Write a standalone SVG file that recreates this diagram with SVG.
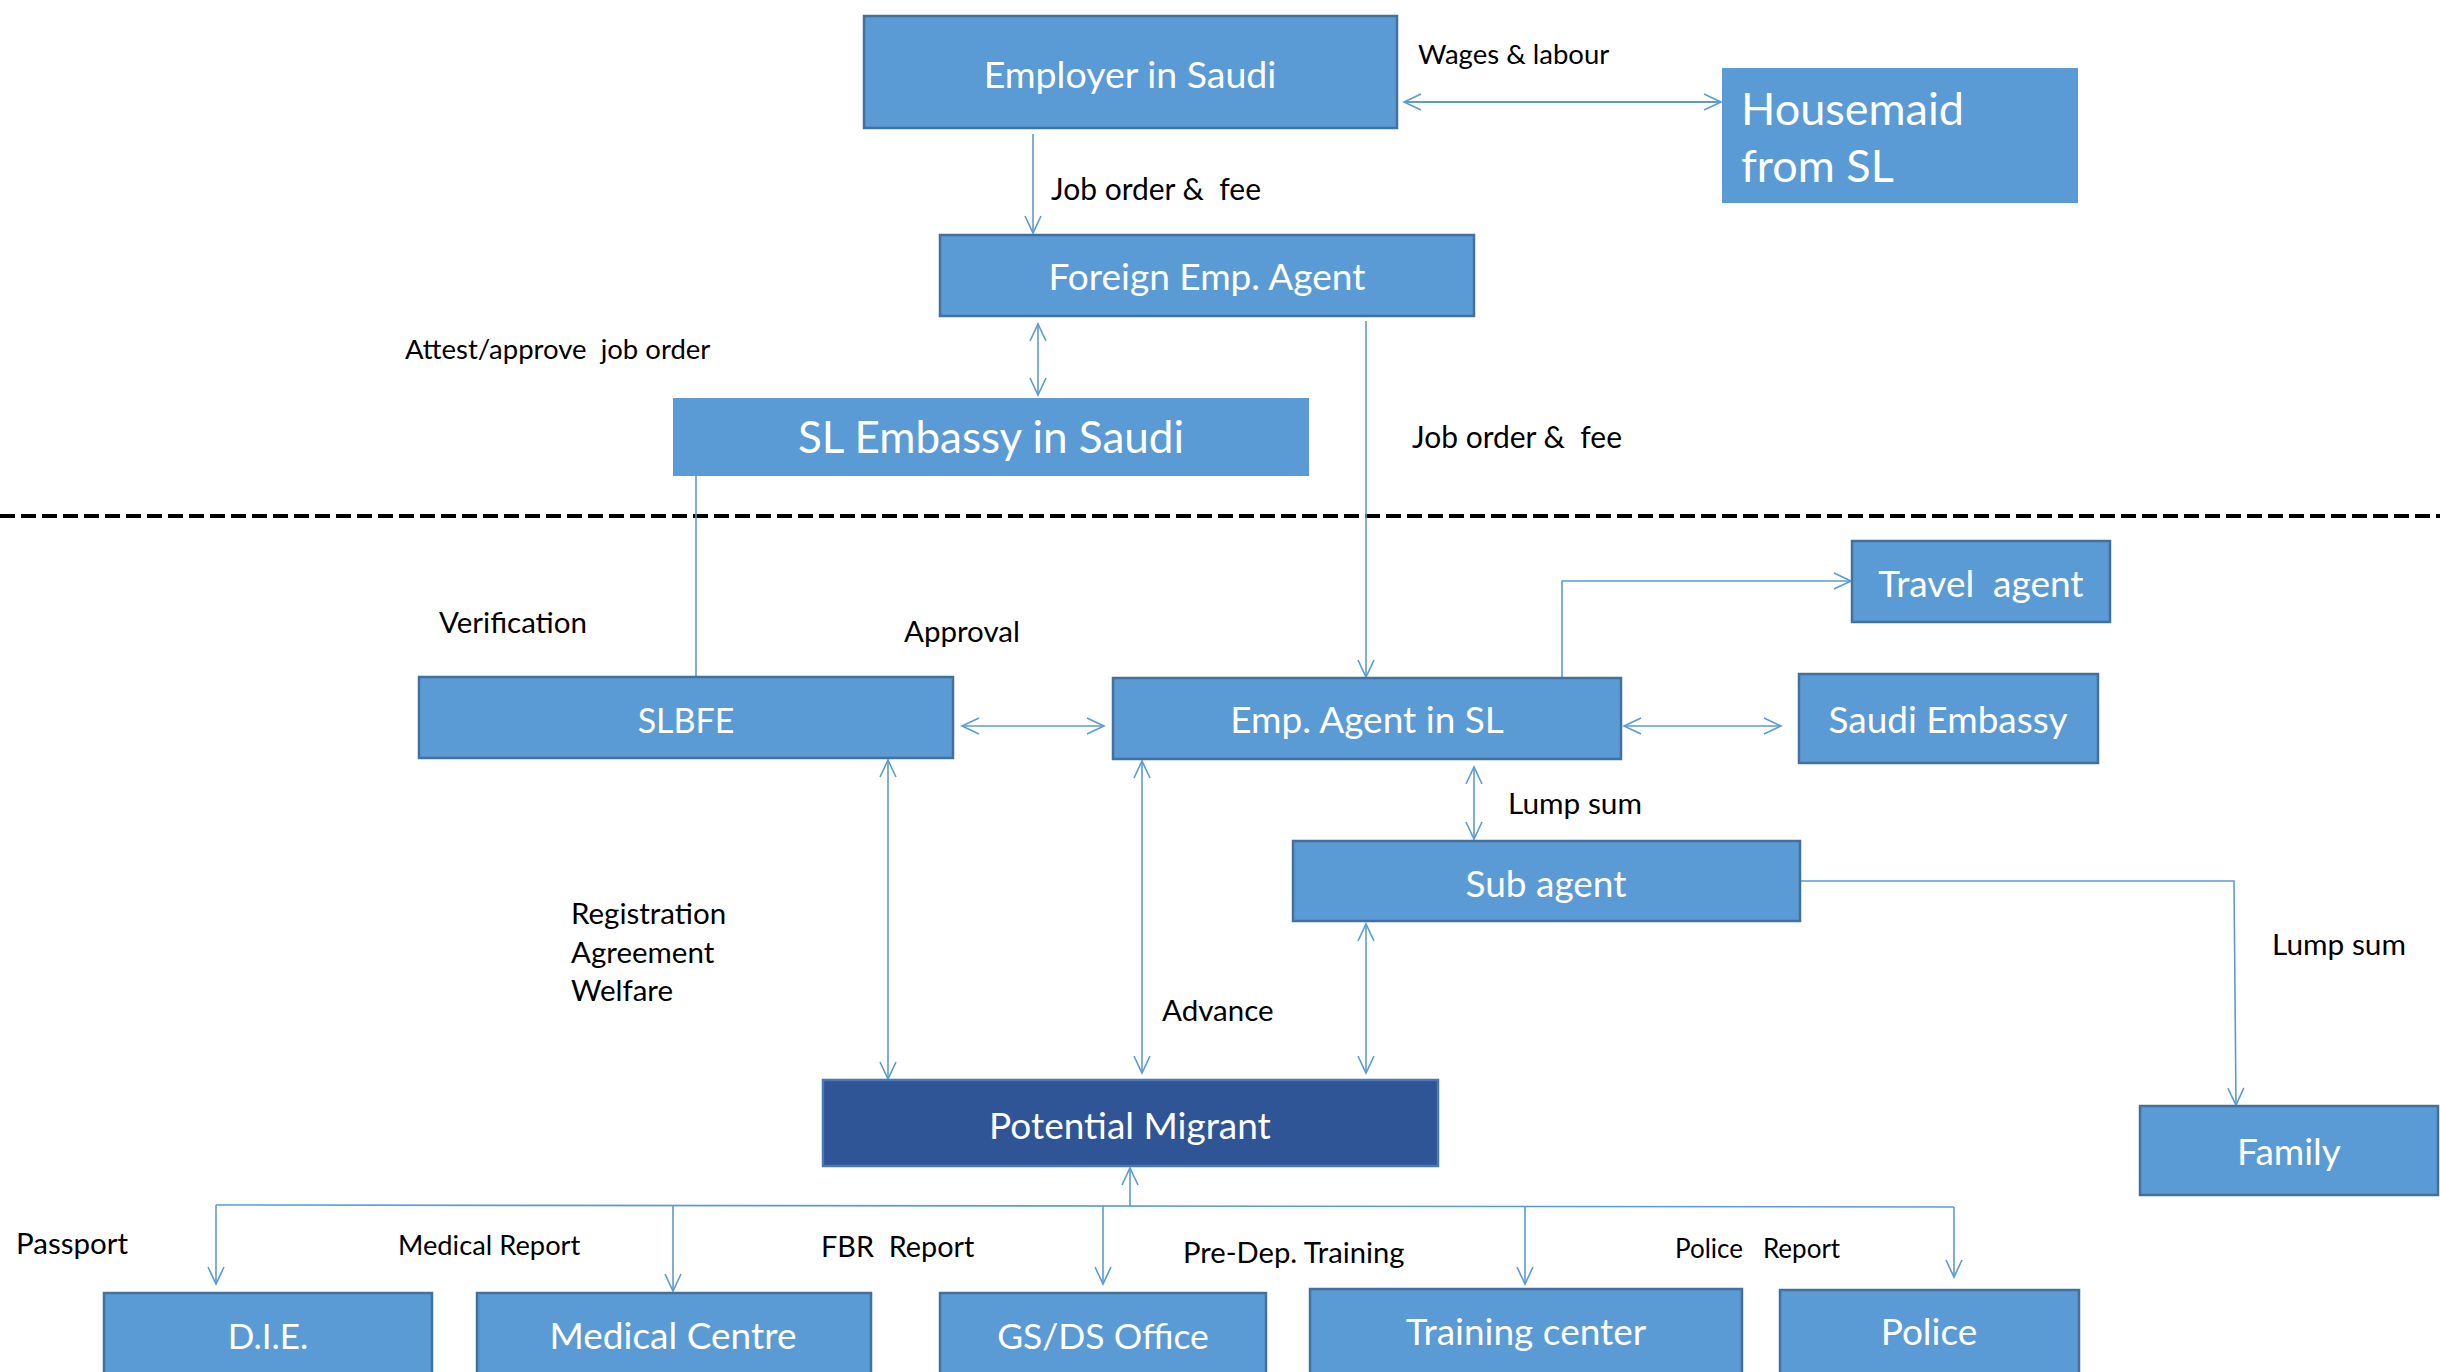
<svg xmlns="http://www.w3.org/2000/svg" width="2440" height="1372" viewBox="0 0 2440 1372">
  <style>
    .box { fill: #5B9BD5; stroke: #41719C; stroke-width: 2.5; }
    .flat { fill: #5B9BD5; stroke: none; }
    .dark { fill: #2F5597; stroke: #4A78B5; stroke-width: 2.5; }
    .nt { font-family: Lato, "Open Sans", "Liberation Sans", sans-serif; fill: #FFFFFF; font-size: 37px; text-anchor: middle; }
    .lbl { font-family: Lato, "Open Sans", "Liberation Sans", sans-serif; fill: #000000; font-size: 29.5px; white-space: pre; }
    .pre { white-space: pre; }
    .con { fill: none; stroke: #5B9BD5; stroke-width: 1.6; }
    .two { marker-start: url(#head); marker-end: url(#head); }
    .one { marker-end: url(#head); }
  </style>
  <defs>
    <marker id="head" markerUnits="userSpaceOnUse" markerWidth="40" markerHeight="40" refX="0" refY="0" orient="auto-start-reverse" overflow="visible">
      <path d="M-17,-8 L0,0 L-17,8" fill="none" stroke="#5B9BD5" stroke-width="1.6"/>
    </marker>
  </defs>
  <rect width="2440" height="1372" fill="#FFFFFF"/>

  <!-- border between the Saudi side and the Sri Lanka side -->
  <line x1="0" y1="516" x2="2440" y2="516" stroke="#000000" stroke-width="4" stroke-dasharray="15 6"/>

  <!-- connectors -->
  <g id="connectors">
    <line class="con one" x1="1033" y1="134" x2="1033" y2="233"/>
    <line class="con two" x1="1404" y1="102" x2="1721" y2="102" style="stroke-width:2"/>
    <line class="con two" x1="1038" y1="324" x2="1038" y2="395"/>
    <line class="con" x1="696" y1="476" x2="696" y2="677"/>
    <line class="con one" x1="1366" y1="321" x2="1366" y2="677"/>
    <polyline class="con one" points="1562,678 1562,581 1851,581"/>
    <line class="con two" x1="962" y1="726" x2="1104" y2="726"/>
    <line class="con two" x1="1624" y1="726" x2="1781" y2="726"/>
    <line class="con two" x1="1474" y1="767" x2="1474" y2="839"/>
    <polyline class="con one" points="1800,881 2234,881 2236,1105"/>
    <line class="con two" x1="888" y1="760" x2="888" y2="1079"/>
    <line class="con two" x1="1142" y1="761" x2="1142" y2="1073"/>
    <line class="con two" x1="1366" y1="924" x2="1366" y2="1073"/>
    <line class="con one" x1="1130" y1="1206" x2="1130" y2="1168"/>
    <line class="con" x1="216" y1="1205" x2="1954" y2="1207"/>
    <line class="con one" x1="216" y1="1205" x2="216" y2="1284"/>
    <line class="con one" x1="673" y1="1205" x2="673" y2="1291"/>
    <line class="con one" x1="1103" y1="1206" x2="1103" y2="1284"/>
    <line class="con one" x1="1525" y1="1206" x2="1525" y2="1284"/>
    <line class="con one" x1="1954" y1="1207" x2="1954" y2="1277"/>
  </g>

  <!-- Saudi side -->
  <g id="employer">
    <rect class="box" x="864" y="16" width="533" height="112"/>
    <text class="nt" x="1130" y="88" style="font-size:37.5px">Employer in Saudi</text>
  </g>
  <g id="housemaid">
    <rect class="flat" x="1722" y="68" width="356" height="135"/>
    <text class="nt" x="1741" y="125" style="text-anchor:start;font-size:45px">Housemaid</text>
    <text class="nt" x="1741" y="182" style="text-anchor:start;font-size:45px">from SL</text>
  </g>
  <g id="foreign-agent">
    <rect class="box" x="940" y="235" width="534" height="81"/>
    <text class="nt" x="1207" y="290">Foreign Emp. Agent</text>
  </g>
  <g id="sl-embassy">
    <rect class="flat" x="673" y="398" width="636" height="78"/>
    <text class="nt" x="991" y="453" style="font-size:44px">SL Embassy in Saudi</text>
  </g>

  <!-- Sri Lanka side -->
  <g id="slbfe">
    <rect class="box" x="419" y="677" width="534" height="81"/>
    <text class="nt" x="686" y="733" style="font-size:34px">SLBFE</text>
  </g>
  <g id="emp-agent-sl">
    <rect class="box" x="1113" y="678" width="508" height="81"/>
    <text class="nt" x="1367" y="733">Emp. Agent in SL</text>
  </g>
  <g id="travel-agent">
    <rect class="box" x="1852" y="541" width="258" height="81"/>
    <text class="nt pre" x="1981" y="597">Travel  agent</text>
  </g>
  <g id="saudi-embassy">
    <rect class="box" x="1799" y="674" width="299" height="89"/>
    <text class="nt" x="1948" y="733">Saudi Embassy</text>
  </g>
  <g id="sub-agent">
    <rect class="box" x="1293" y="841" width="507" height="80"/>
    <text class="nt" x="1546" y="897">Sub agent</text>
  </g>
  <g id="family">
    <rect class="box" x="2140" y="1106" width="298" height="89"/>
    <text class="nt" x="2289" y="1165">Family</text>
  </g>
  <g id="potential-migrant">
    <rect class="dark" x="823" y="1080" width="615" height="86"/>
    <text class="nt" x="1130" y="1139">Potential Migrant</text>
  </g>

  <!-- service offices -->
  <g id="die">
    <rect class="box" x="104" y="1293" width="328" height="100"/>
    <text class="nt" x="268" y="1349" style="font-size:35px">D.I.E.</text>
  </g>
  <g id="medical-centre">
    <rect class="box" x="477" y="1293" width="394" height="100"/>
    <text class="nt" x="673" y="1349">Medical Centre</text>
  </g>
  <g id="gs-ds-office">
    <rect class="box" x="940" y="1293" width="326" height="100"/>
    <text class="nt" x="1103" y="1349" style="font-size:35.5px">GS/DS Office</text>
  </g>
  <g id="training-center">
    <rect class="box" x="1310" y="1289" width="432" height="104"/>
    <text class="nt" x="1526" y="1345">Training center</text>
  </g>
  <g id="police">
    <rect class="box" x="1780" y="1290" width="299" height="103"/>
    <text class="nt" x="1929" y="1345">Police</text>
  </g>

  <!-- flow labels -->
  <g id="labels">
    <text class="lbl" x="1418" y="64" style="font-size:27.5px">Wages &amp; labour</text>
    <text class="lbl" x="1051" y="200" style="font-size:30px">Job order &amp;  fee</text>
    <text class="lbl" x="405" y="359" style="font-size:27.5px">Attest/approve  job order</text>
    <text class="lbl" x="1412" y="448" style="font-size:30px">Job order &amp;  fee</text>
    <text class="lbl" x="439" y="633">Verification</text>
    <text class="lbl" x="904" y="642">Approval</text>
    <text class="lbl" x="1508" y="814" style="font-size:29.8px">Lump sum</text>
    <text class="lbl" x="571" y="924">Registration</text>
    <text class="lbl" x="571" y="963">Agreement</text>
    <text class="lbl" x="571" y="1001">Welfare</text>
    <text class="lbl" x="1162" y="1021">Advance</text>
    <text class="lbl" x="2272" y="955" style="font-size:29.8px">Lump sum</text>
    <text class="lbl" x="16" y="1254">Passport</text>
    <text class="lbl" x="398" y="1255" style="font-size:27.3px">Medical Report</text>
    <text class="lbl" x="821" y="1257" style="font-size:28.8px">FBR  Report</text>
    <text class="lbl" x="1183" y="1263" style="font-size:29.2px">Pre-Dep. Training</text>
    <text class="lbl" x="1675" y="1258" style="font-size:26px">Police   Report</text>
  </g>
</svg>
